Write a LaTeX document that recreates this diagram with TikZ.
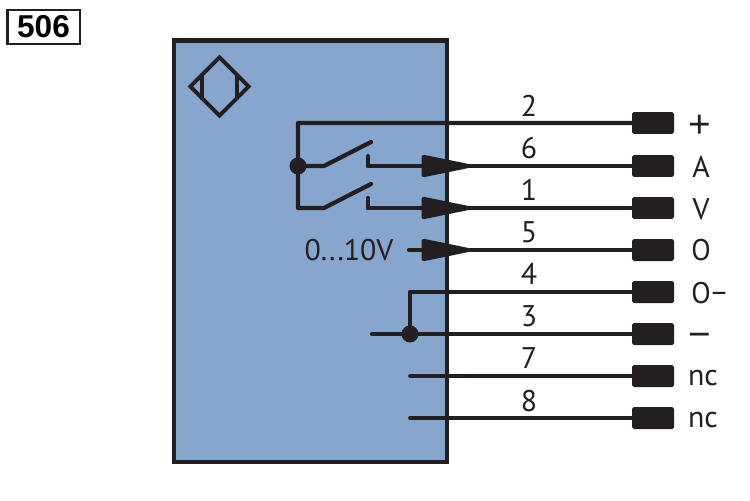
\documentclass[tikz,border=0pt]{standalone}
\usepackage{fontspec}
\setmainfont{PT Sans}
\newfontfamily\boxfont{Liberation Sans}
\usetikzlibrary{arrows.meta,shapes.geometric}
\definecolor{sensorblue}{HTML}{86A6CE}
\definecolor{wireblack}{HTML}{231F20}
\tikzset{
    wire/.style={draw=wireblack, line width=2.4pt, line cap=round, line join=round},
    thinwire/.style={wire, line width=2.1pt},
    pin/.style={rectangle, fill=wireblack, rounded corners=1pt, minimum width=0.84cm, minimum height=0.44cm, inner sep=0pt},
    dot/.style={circle, fill=wireblack, minimum size=0.34cm, inner sep=0pt},
    lbl/.style={text=wireblack, inner sep=0pt, font=\fontsize{17}{17}\selectfont},
    signlbl/.style={lbl, font=\boxfont\fontsize{22}{22}\selectfont},
    output/.style={wire, -{Triangle[round, length=1.15cm, width=0.44cm]}},
}
\begin{document}
\begin{tikzpicture}[x=0.02cm, y=-0.02cm]
    \useasboundingbox (0,0) rectangle (750,500);

    \node [draw=wireblack, line width=1.7pt, fill=white, minimum width=1.46cm, minimum height=0.68cm, inner sep=0pt, font=\boxfont\bfseries\fontsize{18}{18}\selectfont] (code) at (43.5,27) {506};
    \node [draw=wireblack, line width=2.8pt, fill=sensorblue, minimum width=5.46cm, minimum height=8.44cm, inner sep=0pt] (housing) at (310.5,251) {};
    \node [diamond, draw=wireblack, line width=2.2pt, minimum width=1.2cm, minimum height=1.2cm, inner sep=0pt] (sensor) at (219.5,86.5) {};
    \draw [wire] (202,75) -- (202,98);
    \draw [wire] (237,75) -- (237,98);

    % connector pins
    \node [pin] (p2) at (653,123) {};
    \node [pin] (p6) at (653,166) {};
    \node [pin] (p1) at (653,208) {};
    \node [pin] (p5) at (653,250) {};
    \node [pin] (p4) at (653,292) {};
    \node [pin] (p3) at (653,334) {};
    \node [pin] (p7) at (653,376) {};
    \node [pin] (p8) at (653,418) {};

    % switches
    \coordinate (common) at (298,166);
    \coordinate (upper) at (298,123);
    \coordinate (lower) at (298,208);
    \coordinate (hinge1) at (324,166);
    \coordinate (blade1) at (371,142);
    \coordinate (hinge2) at (324,208);
    \coordinate (blade2) at (371,184);
    \coordinate (contact1) at (368,156);
    \coordinate (bend1) at (368,166);
    \coordinate (contact2) at (368,198);
    \coordinate (bend2) at (368,208);
    \coordinate (tip1) at (470,166);
    \coordinate (tip2) at (470,208);
    \draw [wire] (p2) -- (upper) -- (lower) -- (hinge2) -- (blade2);
    \draw [wire] (common) -- (hinge1) -- (blade1);
    \node [dot] (commondot) at (common) {};
    \draw [wire] (contact1) -- (bend1) -- (tip1);
    \draw [wire] (contact2) -- (bend2) -- (tip2);
    \draw [output] (bend1) -- (tip1);
    \draw [output] (bend2) -- (tip2);
    \draw [wire] (tip1) -- (p6);
    \draw [wire] (tip2) -- (p1);

    % analog output
    \node [lbl] (analog) at (349,250) {0...10V};
    \coordinate (start5) at (409,250);
    \coordinate (tip5) at (470,250);
    \draw [output] (start5) -- (tip5);
    \draw [wire] (tip5) -- (p5);

    % ground side
    \coordinate (start3) at (372,334);
    \coordinate (join) at (410,334);
    \coordinate (bend4) at (410,292);
    \coordinate (start7) at (410,376);
    \coordinate (start8) at (410,418);
    \draw [wire] (start3) -- (p3);
    \draw [wire] (join) -- (bend4) -- (p4);
    \node [dot] (joindot) at (join) {};
    \draw [thinwire] (start7) -- (p7);
    \draw [thinwire] (start8) -- (p8);

    % wire numbers
    \node [lbl] (n2) at (529,106) {2};
    \node [lbl] (n6) at (529,148) {6};
    \node [lbl] (n1) at (529,190) {1};
    \node [lbl] (n5) at (529,232) {5};
    \node [lbl] (n4) at (529,274) {4};
    \node [lbl] (n3) at (529,316) {3};
    \node [lbl] (n7) at (529,358) {7};
    \node [lbl] (n8) at (529,401) {8};

    % terminal names
    \node [signlbl] (t2) at (700,126) {+};
    \node [lbl] (t6) at (701,167) {A};
    \node [lbl] (t1) at (701,209) {V};
    \node [lbl] (t5) at (701,250) {\scalebox{.95}[1]{O}};
    \node [lbl, anchor=west] (t4) at (691,293) {\scalebox{.95}[1]{O}\kern.5pt−};
    \node [signlbl] (t3) at (700,340) {−};
    \node [lbl] (t7) at (703,378) {nc};
    \node [lbl] (t8) at (703,420) {nc};
\end{tikzpicture}
\end{document}
